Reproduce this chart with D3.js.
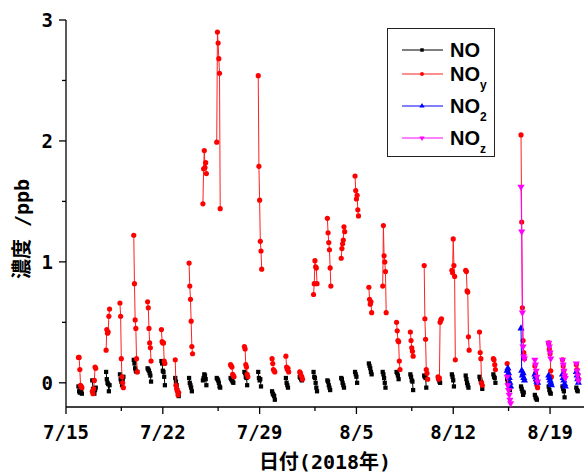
<!DOCTYPE html>
<html>
<head>
<meta charset="utf-8">
<script src="https://cdn.jsdelivr.net/npm/d3@7"></script>
<style>
  body { margin: 0; background: #fff; }
  svg text { font-family: "DejaVu Sans Mono", "Noto Sans CJK JP", sans-serif; font-weight: bold; fill: #000; }
  .legend text { font-family: "Liberation Sans", Arial, sans-serif; }
</style>
</head>
<body>
<svg id="svg" width="584" height="473"></svg>
<script>
// DATA (ppb), one cluster of samples per day
var days = ["7/16","7/17","7/18","7/19","7/20","7/21","7/22","7/23","7/24","7/25","7/26","7/27","7/28","7/29","7/30","7/31",
  "8/1","8/2","8/3","8/4","8/5","8/6","8/7","8/8","8/9","8/10","8/11","8/12","8/13","8/14","8/15","8/16","8/17","8/18","8/19","8/20","8/21"];
var lateDays = ["8/16","8/17","8/18","8/19","8/20","8/21"];
var sampleHours = [-2.4, -1.2, 0, 1.2, 2.4, 3.6]; // hours around the day tick

var noValues = [
  [-0.03,-0.07,-0.08,-0.08,-0.07,-0.09], [0.02,-0.05,-0.08,-0.09,-0.06,-0.04], [0.09,0.03,0.0,-0.01,-0.07,-0.02],
  [0.07,0.03,0.01,-0.02,0.03,0.05], [0.19,0.16,0.12,0.1,0.09,0.09], [0.12,0.11,0.1,0.08,0.06,0.01],
  [0.18,0.16,0.1,0.09,0.05,-0.02], [0.04,0.01,-0.02,-0.06,-0.08,-0.11], [0.04,0.0,-0.02,-0.04,-0.07],
  [0.02,0.04,0.07,0.06,0.03,-0.02], [0.04,0.03,0.02,0.0,-0.03,-0.04], [0.04,0.03,0.02,0.01,0.0],
  [0.09,0.08,0.05,0.04,-0.02], [0.09,0.04,0.02,0.03,-0.03], [-0.07,-0.09,-0.1,-0.11,-0.14],
  [0.04,0.0,-0.02,-0.04], [0.05,0.04,0.03,0.02], [0.09,0.05,0.04,0.0,-0.04,-0.07],
  [0.02,0.01,-0.02,-0.04,-0.06], [0.04,0.03,0.0,-0.02,-0.04], [0.09,0.07,0.05,0.0],
  [0.16,0.14,0.12,0.09,0.07], [0.09,0.07,0.04,0.0,-0.04], [0.09,0.08,0.06,0.03],
  [0.07,0.05,0.02,0.01,-0.06], [0.06,0.05,0.04,-0.04], [0.04,0.03,0.01,0.0],
  [0.07,0.05,0.02,-0.03], [0.06,0.03,0.0,-0.02,-0.04], [0.05,0.03,0.01,0.0,-0.05],
  [0.07,0.05,0.04,0.0], [0.03,0.01,-0.02,-0.03,-0.06], [-0.03,-0.05,-0.07,-0.1,-0.08],
  [-0.1,-0.12,-0.13,-0.14], [-0.03,-0.06,-0.08,-0.09], [-0.03,-0.05,-0.07,-0.12], [-0.04,-0.06,-0.07]
];
var noyValues = [
  [0.21,0.21,0.11,-0.02,-0.03,-0.04], [-0.07,-0.09,-0.05,0.02,0.13,0.12], [0.27,0.44,0.41,0.42,0.55,0.61],
  [0.66,0.55,0.2,0.05,0.0,-0.04], [1.22,0.82,0.52,0.45,0.2,0.09], [0.67,0.62,0.45,0.33,0.29,0.18],
  [0.44,0.34,0.33,0.33,0.18,0.16], [0.19,-0.02,-0.05,-0.07,-0.1,-0.08], [0.99,0.8,0.69,0.51,0.3,0.24],
  [1.48,1.77,1.92,1.78,1.82,1.73], [1.99,2.9,2.81,2.68,2.56,1.44], [0.15,0.14,0.13,0.07,0.06,0.05],
  [0.3,0.28,0.15,0.13,0.07,0.05], [2.54,1.79,1.51,1.17,1.09,0.94], [0.2,0.16,0.11,0.1,0.09],
  [0.22,0.13,0.11,0.12,0.09], [0.09,0.08,0.06,0.05,0.03], [0.73,0.82,1.01,0.96,0.95,0.82],
  [1.36,1.24,1.16,1.1,0.95,0.8], [1.03,1.11,1.15,1.18,1.29,1.25], [1.71,1.59,1.52,1.55,1.43,1.38],
  [0.79,0.69,0.65,0.67,0.58], [0.8,1.3,1.05,1.0,0.92,0.58], [0.5,0.43,0.35,0.34,0.18,0.11],
  [0.42,0.35,0.29,0.26,0.22], [0.97,0.53,0.36,0.11,0.08,0.03], [0.05,0.03,0.04,0.5,0.52,0.53],
  [0.93,0.91,1.19,0.97,0.88,0.19], [0.93,0.92,0.76,0.75,0.38,0.27], [0.42,0.25,0.2,0.0,-0.02],
  [0.2,0.19,0.15,0.11], [0.16,0.1,0.05,0.0,-0.04], [2.05,1.33,0.62,0.35,0.25,0.2],
  [0.14,0.08,0.02,-0.02,-0.04], [0.33,0.28,0.24,0.1,0.05], [0.19,0.14,0.1,0.06], [0.15,0.11,0.07,0.03]
];
var no2Values = [
  [0.1,0.12,0.08,0.04,0.0,-0.03], [0.45,0.1,0.06,0.08,0.04,0.02], [0.07,0.05,0.03,0.01,0.0],
  [0.06,0.04,0.02,0.0,-0.02], [0.07,0.04,0.02,-0.01,-0.03], [0.09,0.06,0.03,0.0]
];
var nozValues = [
  [0.05,-0.02,-0.06,-0.1,-0.14,-0.17], [1.62,1.25,0.58,0.3,0.22,0.2], [0.19,0.15,0.1,0.05,0.01],
  [0.33,0.3,0.25,0.2], [0.19,0.15,0.1,0.06,0.04], [0.16,0.1,0.06,0.02]
];

var xTickDays = ["7/15","7/22","7/29","8/5","8/12","8/19"];
var xMinorDays = ["7/19","7/26","8/2","8/9","8/16"];
var yTicks = [0, 1, 2, 3];
var yMinor = [0.5, 1.5, 2.5];

// SETUP
var parseDay = function (s) { return d3.timeParse("%Y/%m/%d")("2018/" + s); };
var svg = d3.select("#svg");
var plotLeft = 66, plotTop = 20, plotBottom = 407, pxPerDay = 13.83;

var x = d3.scaleTime()
  .domain([parseDay("7/15"), parseDay("8/22")])
  .range([plotLeft, plotLeft + 38 * pxPerDay]);
var y = d3.scaleLinear().domain([-0.2, 3]).range([plotBottom, plotTop]);

function clusters(dayList, values) {
  return values.map(function (vals, i) {
    var day = parseDay(dayList[i]);
    return vals.map(function (v, j) {
      return { t: new Date(+day + sampleHours[j] * 3600000), v: v };
    });
  });
}

var series = [
  { name: "NO", sub: "", color: "#000000", lineColor: "#000000", shape: d3.symbolSquare, size: 18, data: clusters(days, noValues) },
  { name: "NO", sub: "y", color: "#ff0000", lineColor: "#ff2020", shape: d3.symbolCircle, size: 21, data: clusters(days, noyValues) },
  { name: "NO", sub: "2", color: "#0000ff", lineColor: "#0000ff", shape: d3.symbolTriangle, size: 22, data: clusters(lateDays, no2Values) },
  { name: "NO", sub: "z", color: "#ff00ff", lineColor: "#ff00ff", shape: d3.symbolTriangle, size: 22, flip: true, data: clusters(lateDays, nozValues) }
];

// AXES
var xAxis = svg.append("g").attr("transform", "translate(0," + plotBottom + ")");
xAxis.append("line").attr("x1", plotLeft).attr("x2", 584).attr("stroke", "#000").attr("stroke-width", 1.3);
xAxis.selectAll(".major").data(xTickDays).enter().append("line")
  .attr("x1", function (d) { return x(parseDay(d)); }).attr("x2", function (d) { return x(parseDay(d)); })
  .attr("y1", 0).attr("y2", 7).attr("stroke", "#000").attr("stroke-width", 1.3);
xAxis.selectAll(".minor").data(xMinorDays).enter().append("line")
  .attr("x1", function (d) { return x(parseDay(d)); }).attr("x2", function (d) { return x(parseDay(d)); })
  .attr("y1", 0).attr("y2", 4).attr("stroke", "#000").attr("stroke-width", 1.3);
xAxis.selectAll("text").data(xTickDays).enter().append("text")
  .attr("x", function (d) { return x(parseDay(d)); }).attr("y", 32)
  .attr("text-anchor", "middle").style("font-size", "19px")
  .text(function (d) { return d; });

var yAxis = svg.append("g").attr("transform", "translate(" + plotLeft + ",0)");
yAxis.append("line").attr("y1", plotTop).attr("y2", plotBottom).attr("stroke", "#000").attr("stroke-width", 1.3);
yAxis.selectAll(".major").data(yTicks).enter().append("line")
  .attr("y1", y).attr("y2", y).attr("x1", -7).attr("x2", 0).attr("stroke", "#000").attr("stroke-width", 1.3);
yAxis.selectAll(".minor").data(yMinor).enter().append("line")
  .attr("y1", y).attr("y2", y).attr("x1", -4).attr("x2", 0).attr("stroke", "#000").attr("stroke-width", 1.3);
yAxis.selectAll("text").data(yTicks).enter().append("text")
  .attr("x", -13).attr("y", function (d) { return y(d) + 7; })
  .attr("text-anchor", "end").style("font-size", "19px")
  .text(function (d) { return d; });

svg.append("text").attr("transform", "translate(29,229) rotate(-90)")
  .attr("text-anchor", "middle").style("font-size", "20px").text("濃度\u2009/ppb");
svg.append("text").attr("x", 325).attr("y", 469)
  .attr("text-anchor", "middle").style("font-size", "20px").text("日付(2018年)");

// MARKS
var line = d3.line().x(function (d) { return x(d.t); }).y(function (d) { return y(d.v); });
var plot = svg.append("g");

series.forEach(function (s) {
  var g = plot.append("g");
  g.selectAll("path.line").data(s.data).enter().append("path")
    .attr("class", "line").attr("d", line)
    .attr("fill", "none").attr("stroke", s.lineColor).attr("stroke-width", 1);
  var sym = d3.symbol().type(s.shape).size(s.size);
  g.selectAll("path.dot").data(d3.merge(s.data)).enter().append("path")
    .attr("class", "dot").attr("d", sym)
    .attr("transform", function (d) {
      return "translate(" + x(d.t) + "," + y(d.v) + ")" + (s.flip ? " rotate(180)" : "");
    })
    .attr("fill", s.color);
});

// LEGEND
var rowY = [50, 74, 106, 138];
var legend = svg.append("g").attr("class", "legend");
legend.append("rect").attr("x", 387.5).attr("y", 28.5).attr("width", 107).attr("height", 128)
  .attr("fill", "#fff").attr("stroke", "#222").attr("stroke-width", 1);
series.forEach(function (s, i) {
  var row = legend.append("g").attr("transform", "translate(0," + rowY[i] + ")");
  row.append("line").attr("x1", 402).attr("x2", 443).attr("stroke", s.lineColor).attr("stroke-width", 1.2);
  row.append("path").attr("d", d3.symbol().type(s.shape).size(12))
    .attr("transform", "translate(422,0)" + (s.flip ? " rotate(180)" : "")).attr("fill", s.color);
  var t = row.append("text").attr("x", 450).attr("y", 7).style("font-size", "20px").text(s.name);
  if (s.sub) t.append("tspan").attr("dy", 8).style("font-size", "12px").text(s.sub);
});
</script>
</body>
</html>
